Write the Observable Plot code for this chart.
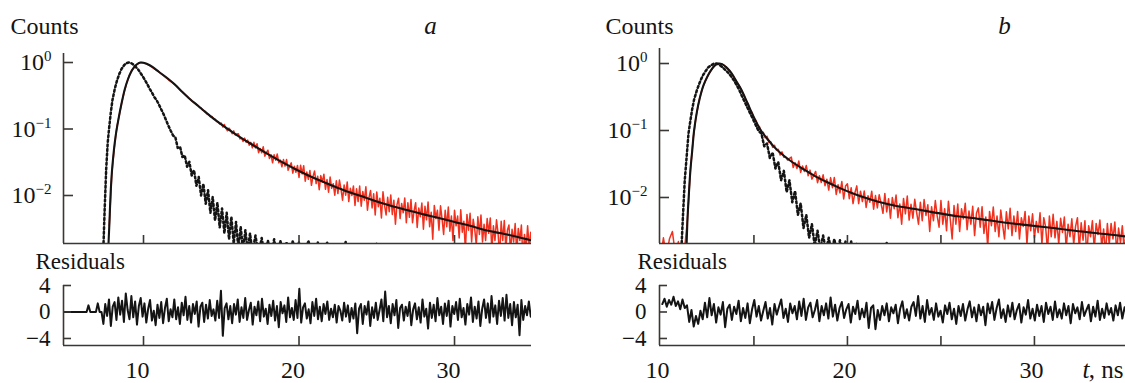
<!DOCTYPE html>
<html><head><meta charset="utf-8">
<script src="https://cdn.jsdelivr.net/npm/d3@7"></script>
<script src="https://cdn.jsdelivr.net/npm/@observablehq/plot@0.6"></script>
<style>
html,body{margin:0;padding:0;background:#fff;}
#wrap{position:relative;width:1125px;height:383px;overflow:hidden;}
#wrap svg{position:absolute;overflow:visible;}
#wrap svg, #wrap svg text, #wrap svg tspan{font-family:"Liberation Serif","Times New Roman",serif !important;}
</style></head><body><div id="wrap"></div>
<script>
// ---------- data (normalized counts, residuals) ----------
// panel a: fit curve
const fitAT = [7.70,7.75,7.80,7.90,8.00,8.20,8.40,8.60,8.80,9.00,9.20,9.40,9.60,9.80,10.00,10.20,10.60,11.00,11.50,12.00,12.50,13.00,13.50,14,15,16,17,18,19,20,21,22,23,24,25,26,27,28,29,30,31,32,33,34,35];
const fitAV = [0.0009,0.0019,0.0035,0.0126,0.028,0.076,0.145,0.25,0.40,0.56,0.72,0.85,0.95,1.0,0.99,0.955,0.85,0.72,0.59,0.47,0.36,0.28,0.224,0.178,0.117,0.081,0.058,0.042,0.031,0.0234,0.0182,0.0145,0.0117,0.0098,0.0081,0.0069,0.0060,0.0052,0.0046,0.0040,0.0035,0.0030,0.0027,0.0024,0.0021];
// panel a: instrument response (dotted)
const irfAT = [7.40,7.50,7.60,7.70,7.80,7.90,8.00,8.15,8.30,8.45,8.60,8.75,8.90,9.05,9.20,9.35,9.50,9.65,9.80,9.95,10.10,10.25,10.40,10.55,10.70,10.85,11.00,11.15,11.30,11.45,11.60,11.75,11.90,12.05,12.20,12.35,12.50,12.65,12.80,12.95,13.10,13.25,13.40,13.55,13.70,13.85,14.00,14.15,14.30,14.45,14.60,14.75,14.90,15.05,15.20,15.35,15.50,15.65,15.80,15.95,16.10,16.25,16.40,16.55,16.70,16.85,17.00,17.20,17.40,17.60,17.80,18.00,18.20,18.40,18.60,18.80,19.00,19.20,19.40,19.60,19.80,20.00,20.30,20.60,20.90,21.20,21.50,21.80,22.10,22.40,22.70,23.00,23.50,24.00,24.50,25.00,25.50,26.00];
const irfAV = [
0.0012,0.006,0.025,0.063,0.11,0.18,0.27,0.40,0.54,0.68,
0.81,0.91,0.98,1.0,0.98,0.93,0.86,0.79,0.70,0.62,
0.54,0.47,0.40,0.35,0.30,0.27,0.23,0.195,0.165,0.136,
0.112,0.094,0.080,0.075,0.052,0.054,0.038,0.040,0.027,0.032,
0.020,0.024,0.014,0.019,0.010,0.015,0.0075,0.012,0.0055,0.0095,
0.0042,0.0078,0.0033,0.0064,0.0027,0.0055,0.0022,0.0048,0.0019,0.0040,
0.0016,0.0034,0.0015,0.0030,0.0015,0.0027,0.0014,0.0025,0.0013,0.0023,
0.0012,0.0021,0.0012,0.0022,0.0011,0.0021,0.0012,0.0020,0.0011,0.0021,
0.0011,0.0020,0.0010,0.0021,0.0011,0.0020,0.0010,0.0020,0.0010,0.0018,
0.0010,0.0020,0.0010,0.0012,0.0010,0.0019,0.0010,0.0010];
// panel a: measured decay — rise and peak
const redAHeadT = [7.80,7.96,8.12,8.28,8.44,8.60,8.76,8.92,9.08,9.24,9.40,9.56,9.72,9.88,10.04,10.20,10.40,10.70,11.00,11.30,11.60,11.90,12.20,12.50,12.80,13.10,13.40];
const redAHeadV = [0.0035,0.021,0.052,0.105,0.16,0.25,0.36,0.49,0.63,0.76,0.85,0.93,0.98,1.0,0.98,0.955,0.90,0.80,0.72,0.63,0.55,0.49,0.42,0.36,0.31,0.265,0.235];
// panel a: measured decay — tail channels from 13.5 ns, 0.1 ns apart
const redATailStart = 13.5, redATailStep = 0.1;
const redATailV = [
0.226,0.211,0.207,0.192,0.189,
0.181,0.168,0.166,0.153,0.154,0.142,0.141,0.130,0.129,0.119,
0.123,0.107,0.117,0.102,0.094,0.103,0.096,0.085,0.094,0.081,
0.084,0.085,0.071,0.074,0.065,0.073,0.063,0.068,0.057,0.063,
0.052,0.063,0.052,0.060,0.044,0.051,0.044,0.054,0.039,0.044,
0.048,0.036,0.041,0.031,0.041,0.034,0.042,0.031,0.034,0.027,
0.0347,0.0276,0.0348,0.0239,0.0277,0.031,0.0217,0.0275,0.0223,0.0283,
0.0187,0.0285,0.0211,0.0281,0.0164,0.0226,0.0175,0.0237,0.0142,0.0194,
0.0233,0.0151,0.0195,0.0122,0.0199,0.0159,0.0209,0.0124,0.0174,0.0112,
0.0189,0.0128,0.0150,0.0101,0.0166,0.0107,0.0171,0.0125,0.0085,0.0144,
0.0101,0.0159,0.0081,0.0128,0.0100,0.0139,0.0071,0.0126,0.0081,0.0139,
0.0069,0.0115,0.0085,0.0135,0.0060,0.0093,0.0119,0.0065,0.0106,0.0051,
0.0113,0.0068,0.0091,0.0046,0.0114,0.0071,0.0051,0.0094,0.0057,0.0102,
0.0052,0.0085,0.0037,0.0073,0.0091,0.0045,0.0076,0.0055,0.0092,0.0039,
0.0078,0.0047,0.0087,0.0039,0.0059,0.0078,0.0033,0.0065,0.0048,0.0077,
0.0031,0.0069,0.0043,0.0080,0.0034,0.0056,0.0022,0.0071,0.0045,0.0060,
0.0030,0.0070,0.0044,0.0026,0.0060,0.0034,0.0067,0.0029,0.0049,0.0021,
0.0060,0.0035,0.0049,0.0023,0.0061,0.0028,0.0041,0.0015,0.0052,0.0030,
0.0054,0.0020,0.0044,0.0031,0.0018,0.0048,0.0026,0.0051,0.0020,0.0037,
0.0021,0.0045,0.0027,0.0046,0.0015,0.0035,0.0021,0.0043,0.0027,0.0012,
0.0041,0.0021,0.0042,0.0016,0.0030,0.0036,0.0014,0.0031,0.0020,0.0038,
0.0014,0.0032,0.0021,0.0036,0.0011,0.0026,0.0015,0.0035,0.0017,0.0028,0.0014];
// panel a residuals, channels from 4.9 ns, 0.12 ns apart
const resAStart = 4.9, resAStep = 0.12;
const resAV = [
0,0,0,0,0,0,0,0,0,0,0,0,0,1.0,0,0,0,0,1.3,0,0,
-1.8,1.2,-0.6,1.9,-2.1,0.8,1.5,-1.2,2.2,-0.4,
1.7,-1.5,2.8,0.3,-1.1,2.4,-0.8,1.6,-1.9,0.9,
2.1,-0.7,1.3,-1.6,0.5,1.8,-1.3,0.2,-2.0,1.1,
-0.9,1.5,-1.7,0.6,2.0,-1.4,0.4,-0.8,1.9,-1.1,
0.7,-1.8,1.4,-0.5,2.3,-1.2,0.9,-1.6,1.2,-0.3,
1.6,-2.2,0.8,1.4,-1.5,1.1,-1.0,1.8,-0.6,0.4,
-1.3,1.7,-0.9,3.2,-3.6,0.6,1.3,-1.1,0.9,-1.7,
1.2,-0.4,1.9,-1.5,0.7,-0.9,2.1,-1.2,0.3,1.4,
-1.9,0.8,-0.5,1.6,-1.4,2.0,-0.7,0.5,-1.8,1.1,
-0.6,1.7,-1.3,0.9,-2.3,1.5,-0.2,1.0,-1.5,2.2,
-0.8,0.6,-1.2,1.8,-0.9,3.5,-1.6,0.7,1.3,-1.0,
0.4,-1.7,1.5,-0.6,2.0,-1.1,0.8,-1.4,1.2,-0.3,
1.6,-1.2,0.5,-0.8,1.1,-1.6,0.9,0.2,-1.3,1.4,
-0.7,1.0,-1.5,0.6,-1.0,1.3,-3.2,0.5,1.2,-1.8,
0.9,-0.4,1.6,-2.1,0.7,-0.9,1.4,-1.2,0.3,1.9,
-1.4,3.1,-0.8,0.9,-1.7,1.2,-0.5,1.8,-2.4,0.6,
1.1,-1.3,0.8,-0.6,1.5,-2.0,0.4,1.3,-1.1,0.7,
-1.6,1.9,-0.7,0.5,-2.5,1.4,-0.9,1.1,-1.4,2.1,
-0.5,0.8,-1.8,1.3,-0.6,1.7,-2.2,0.9,-0.3,1.5,
-1.2,2.0,-0.8,0.6,-1.9,1.2,-0.4,2.2,-1.5,0.8,
-1.0,1.6,-2.1,0.5,1.9,-0.9,1.3,-1.6,2.4,-0.7,
1.0,-1.8,1.7,-0.6,2.1,-1.3,2.6,-0.9,1.2,-2.0,
1.5,-0.8,1.1,-3.5,1.8,-1.2,0.9,-0.5,1.6,-0.7];

// panel b: fit curve
const fitBT = [11.35,11.40,11.45,11.51,11.60,11.70,11.80,11.95,12.10,12.30,12.50,12.70,12.90,13.10,13.30,13.50,13.70,13.90,14.10,14.30,14.50,14.70,14.90,15.10,15.35,15.70,16.10,16.60,17.10,17.60,18.20,18.90,19.60,20.30,21.00,21.60,22.50,23.50,24.60,26.00,27.00,28.20,29.50,31.00,32.50,34.00,35.00];
const fitBV = [0.0009,0.0020,0.0050,0.010,0.025,0.050,0.10,0.19,0.30,0.47,0.63,0.79,0.93,1.0,0.98,0.89,0.78,0.65,0.52,0.42,0.32,0.24,0.18,0.138,0.102,0.076,0.056,0.042,0.033,0.027,0.0214,0.0170,0.0138,0.0115,0.0098,0.0087,0.0076,0.0068,0.0060,0.0052,0.0048,0.0043,0.0039,0.0035,0.0031,0.0028,0.0026];
// panel b: instrument response (dotted)
const irfBT = [11.10,11.20,11.30,11.40,11.50,11.60,11.70,11.80,11.95,12.10,12.25,12.40,12.55,12.70,12.85,13.00,13.15,13.30,13.45,13.60,13.75,13.90,14.05,14.20,14.35,14.50,14.65,14.80,14.95,15.10,15.25,15.40,15.55,15.70,15.85,16.00,16.15,16.30,16.45,16.60,16.75,16.90,17.05,17.20,17.35,17.50,17.65,17.80,17.95,18.10,18.25,18.40,18.55,18.70,18.85,19.00,19.15,19.30,19.45,19.60,19.75,19.90,20.05,20.20,20.35,20.50,20.70,21.00,21.95,22.10,22.25];
const irfBV = [
0.0013,0.005,0.018,0.04,0.09,0.14,0.21,0.29,0.40,0.52,
0.65,0.76,0.87,0.94,0.99,1.0,0.96,0.89,0.81,0.74,
0.66,0.575,0.49,0.41,0.33,0.27,0.22,0.18,0.148,0.12,
0.098,0.090,0.058,0.064,0.039,0.047,0.027,0.034,0.018,0.025,
0.012,0.018,0.0085,0.0125,0.0055,0.0082,0.0035,0.0055,0.0025,0.0040,
0.0019,0.0032,0.0017,0.0027,0.0016,0.0025,0.0015,0.0024,0.0014,0.0023,
0.0014,0.0022,0.0013,0.0022,0.0012,0.0021,0.0011,0.0012,0.0010,0.0021,0.0010];
// panel b: measured decay — background, rise and peak
const redBHeadT = [10.00,10.16,10.32,10.48,10.64,10.80,10.96,11.12,11.28,11.44,11.60,11.76,11.92,12.08,12.24,12.40,12.56,12.72,12.88,13.04,13.20,13.36,13.52,13.68,13.84,14.00,14.16,14.32];
const redBHeadV = [0.0012,0.0025,0.0013,0.0024,0.0031,0.0014,0.0022,0.0012,0.0016,0.0045,0.025,0.08,0.17,0.29,0.42,0.55,0.68,0.80,0.92,0.99,0.99,0.96,0.88,0.79,0.69,0.58,0.49,0.41];
// panel b: measured decay — tail channels from 14.5 ns, 0.1 ns apart
const redBTailStart = 14.5, redBTailStep = 0.1;
const redBTailV = [
0.322,0.270,0.247,0.203,0.186,
0.153,0.142,0.121,0.114,0.094,
0.094,0.078,0.082,0.067,0.068,
0.056,0.060,0.051,0.0525,0.043,0.048,0.040,0.040,0.036,0.0385,
0.040,0.028,0.033,0.027,0.035,0.0237,0.0296,0.0244,0.030,0.0211,
0.0256,0.0188,0.0214,0.0245,0.0166,0.0211,0.0167,0.0218,0.0150,0.0187,
0.0129,0.0198,0.0140,0.0199,0.0111,0.0155,0.0117,0.0173,0.0095,0.0148,
0.0160,0.0096,0.0140,0.0081,0.0118,0.0149,0.0081,0.0124,0.0087,0.0125,
0.0071,0.0106,0.0085,0.0124,0.0067,0.0107,0.0070,0.0110,0.0081,0.0058,
0.0115,0.0061,0.0096,0.0049,0.0100,0.0068,0.0109,0.0050,0.0080,0.0040,
0.0097,0.0057,0.0105,0.0046,0.0079,0.0049,0.0094,0.0060,0.0040,0.0085,
0.0045,0.0093,0.0054,0.0078,0.0031,0.0073,0.0045,0.0090,0.0053,0.0036,
0.0090,0.0040,0.0068,0.0032,0.0088,0.0047,0.0024,0.0076,0.0040,0.0080,
0.0031,0.0068,0.0048,0.0082,0.0033,0.0063,0.0040,0.0074,0.0027,0.0058,
0.0070,0.0036,0.0073,0.0029,0.0051,0.0018,0.0062,0.0038,0.0072,0.0031,
0.0053,0.0026,0.0065,0.0039,0.0024,0.0061,0.0034,0.0069,0.0027,0.0053,
0.0031,0.0062,0.0024,0.0050,0.0037,0.0062,0.0020,0.0053,0.0032,0.0057,
0.0025,0.0044,0.0030,0.0059,0.0020,0.0050,0.0036,0.0016,0.0053,0.0026,
0.0056,0.0025,0.0044,0.0020,0.0049,0.0030,0.0051,0.0017,0.0040,0.0026,
0.0048,0.0020,0.0037,0.0050,0.0017,0.0042,0.0023,0.0045,0.0013,0.0038,
0.0026,0.0045,0.0017,0.0041,0.0028,0.0046,0.0018,0.0034,0.0014,0.0041,
0.0020,0.0041,0.0024,0.0043,0.0015,0.0035,0.0021,0.0038,0.0016,0.0035];
// panel b residuals, channels from 10.1 ns, 0.12 ns apart
const resBStart = 10.1, resBStep = 0.12;
const resBV = [
1.2,2.0,0.8,1.8,1.1,2.3,0.9,1.6,0.4,1.9,
0.6,1.0,-1.5,0.3,-2.2,-0.6,-1.8,0.2,-1.1,1.4,
-0.8,2.1,-0.5,1.2,-1.6,0.7,-0.4,1.5,-2.3,0.5,
1.1,-1.2,0.8,-0.3,1.7,-1.4,0.6,-0.9,1.3,-1.7,
0.4,1.8,-0.7,0.9,-1.3,0.2,1.5,-1.0,0.6,-1.9,
1.2,-0.4,0.8,1.9,-0.9,0.5,-1.5,1.3,-0.2,0.9,
-1.1,1.6,-0.6,2.0,-1.2,0.7,1.4,-0.8,0.3,1.8,
-1.4,0.9,-0.5,1.3,-1.0,2.2,-0.7,1.1,-1.3,0.6,
1.5,-0.9,0.4,1.2,-1.6,0.8,-0.3,1.7,-1.1,0.5,
-0.8,1.4,-2.4,0.6,1.0,-2.6,0.3,-1.2,0.9,-0.5,
1.3,-1.4,0.7,-0.2,1.1,-1.7,0.5,1.6,-0.9,0.4,
-1.3,0.8,1.5,-0.6,2.4,-1.0,0.9,-1.5,1.8,-0.4,
0.6,-1.2,1.3,-0.7,0.2,-1.6,1.0,-0.3,1.4,-1.1,
0.5,-1.8,0.9,-0.6,1.2,-1.3,0.4,1.6,-0.8,0.7,
-1.4,1.1,-0.5,0.8,-2.0,1.3,-0.2,1.5,-1.2,0.6,
1.9,-0.9,0.4,-1.5,1.0,-0.7,1.4,-1.1,0.3,1.2,
-1.6,0.7,-0.4,1.8,-1.0,0.5,-1.3,1.1,-0.6,0.9,
-1.5,1.4,-0.3,0.8,-1.2,1.6,-0.8,0.4,-1.0,1.3,
-0.5,0.9,-1.7,1.2,-0.2,0.7,-1.1,1.5,-0.6,0.3,
1.1,-1.4,0.8,-0.7,1.7,-1.2,0.5,-0.9,1.3,-0.4,
0.6,-1.3,1.0,-0.5,1.4,-1.0,0.7,-0.3];

// axis settings
const xDomA = [4.855, 34.95], xDomB = [9.95, 34.87];
const yDomA = [0.001897, 1.366], yDomB = [0.002057, 1.675];
const resDom = [-5.06, 4];
const countTicks = [1, 0.1, 0.01];
const resTicks = [-4, 0, 4];
const xTicksA = [10, 20, 30], xTicksB = [15, 20, 25, 30], xLabelsB = [10, 20, 30];

// ---------- helpers ----------
const pairs = (ts, vs) => ts.map((t, i) => ({t, v: vs[i]}));
const channels = (start, step, vs) => vs.map((v, i) => ({t: +(start + i * step).toFixed(3), v}));
const AX = "#3a3734", RED = "#f2301e", INK = "#141414";
const FONT = "Liberation Serif";
const wrap = document.getElementById("wrap");
function place(svg, left, top) { svg.style.left = left + "px"; svg.style.top = top + "px"; wrap.appendChild(svg); }
const expFmt = d => { const e = Math.round(Math.log10(d)); return e < 0 ? "\u2212" + (-e) : String(e); };
function supers(svg) {
  svg.querySelectorAll('g[aria-label="y-axis tick label"] text').forEach(t => {
    const e = t.textContent; if (!e) return;
    t.textContent = "10";
    const s = document.createElementNS("http://www.w3.org/2000/svg", "tspan");
    s.setAttribute("dy", "-9"); s.setAttribute("font-size", "15");
    s.textContent = e; t.appendChild(s);
  });
}

function topPanel(o) {
  const svg = Plot.plot({
    width: o.width, height: 250,
    marginLeft: o.mL, marginRight: o.mR, marginTop: o.mT, marginBottom: 7,
    x: {domain: o.xDom}, y: {type: "log", domain: o.yDom},
    style: {fontFamily: FONT, background: "transparent", overflow: "visible"},
    marks: [
      Plot.line(o.red, {x: "t", y: "v", stroke: RED, strokeWidth: 1.5, clip: true}),
      Plot.line(o.irf, {x: "t", y: "v", stroke: INK, strokeWidth: 2.5, strokeDasharray: "2,2.6", clip: true}),
      Plot.line(o.fit, {x: "t", y: "v", stroke: INK, strokeWidth: 2.1, curve: "catmull-rom", clip: true}),
      Plot.ruleX([o.xDom[0]], {stroke: AX, strokeWidth: 1.6}),
      Plot.ruleY([o.yDom[0]], {stroke: AX, strokeWidth: 1.6}),
      Plot.axisY(countTicks, {anchor: "left", tickSize: 10, dx: 10, tickFormat: () => "", stroke: AX, strokeWidth: 1.6, label: null}),
      Plot.axisY(countTicks, {anchor: "left", tickSize: 0, tickPadding: 12, tickFormat: expFmt, fontSize: 24, fontFamily: FONT, fill: INK, label: null}),
      Plot.axisX(o.xTicks, {anchor: "bottom", tickSize: 8, dy: -8, tickFormat: () => "", stroke: AX, strokeWidth: 1.6, label: null}),
      Plot.text(["Counts"], {text: d => d, frameAnchor: "top-left", dx: o.cDx, dy: o.cDy, textAnchor: "start", lineAnchor: "bottom", fontSize: 24, fontFamily: FONT, fill: INK}),
      Plot.text([o.letter], {text: d => d, frameAnchor: "top-left", dx: o.lDx, dy: o.cDy, textAnchor: "middle", lineAnchor: "bottom", fontSize: 25, fontFamily: FONT, fontStyle: "italic", fill: INK})
    ]
  });
  supers(svg);
  return svg;
}

function resPanel(o) {
  const marks = [
    Plot.line(o.res, {x: "t", y: "v", stroke: INK, strokeWidth: 2.0, clip: true}),
    Plot.ruleX([o.xDom[0]], {stroke: AX, strokeWidth: 1.6}),
    Plot.ruleY([resDom[0]], {stroke: AX, strokeWidth: 1.6}),
    Plot.axisY(resTicks, {anchor: "left", tickSize: 8, dx: 8, tickFormat: () => "", stroke: AX, strokeWidth: 1.6, label: null}),
    Plot.axisY(resTicks, {anchor: "left", tickSize: 0, tickPadding: 13, fontSize: 23, fontFamily: FONT, fill: INK, label: null}),
    Plot.axisX(o.xTicks, {anchor: "bottom", tickSize: 9, dy: -9, tickFormat: () => "", stroke: AX, strokeWidth: 1.6, label: null}),
    Plot.axisX(o.xLabels, {anchor: "bottom", tickSize: 0, tickPadding: 15, dx: o.labDx, fontSize: 24, fontFamily: FONT, fill: INK, label: null}),
    Plot.text(["Residuals"], {text: d => d, frameAnchor: "top-left", dx: o.rDx, dy: -17, textAnchor: "start", lineAnchor: "bottom", fontSize: 23, fontFamily: FONT, fill: INK})
  ];
  if (o.unit) {
    marks.push(Plot.text(["t"], {text: d => d, frameAnchor: "bottom-right", dx: -36, dy: 32, textAnchor: "end", lineAnchor: "bottom", fontSize: 25, fontFamily: FONT, fontStyle: "italic", fill: INK}));
    marks.push(Plot.text([", ns"], {text: d => d, frameAnchor: "bottom-right", dx: -2, dy: 32, textAnchor: "end", lineAnchor: "bottom", fontSize: 25, fontFamily: FONT, fill: INK}));
  }
  return Plot.plot({
    width: o.width, height: 133,
    marginLeft: o.mL, marginRight: o.mR, marginTop: 35, marginBottom: 38,
    x: {domain: o.xDom}, y: {domain: resDom},
    style: {fontFamily: FONT, background: "transparent", overflow: "visible"},
    marks
  });
}

place(topPanel({width: 560, mL: 63, mR: 29, mT: 53, xDom: xDomA, yDom: yDomA, xTicks: xTicksA,
  red: pairs(redAHeadT, redAHeadV).concat(channels(redATailStart, redATailStep, redATailV)),
  irf: pairs(irfAT, irfAV), fit: pairs(fitAT, fitAV),
  letter: "a", cDx: -53, cDy: -20, lDx: 367}), 0, 0);
place(topPanel({width: 565, mL: 99, mR: 0, mT: 48, xDom: xDomB, yDom: yDomB, xTicks: xTicksB,
  red: pairs(redBHeadT, redBHeadV).concat(channels(redBTailStart, redBTailStep, redBTailV)),
  irf: pairs(irfBT, irfBV), fit: pairs(fitBT, fitBV),
  letter: "b", cDx: -54, cDy: -15, lDx: 345}), 560, 0);
place(resPanel({width: 560, mL: 63, mR: 29, xDom: xDomA, xTicks: xTicksA, xLabels: xTicksA, labDx: -6,
  res: channels(resAStart, resAStep, resAV), rDx: -28}), 0, 250);
place(resPanel({width: 565, mL: 99, mR: 0, xDom: xDomB, xTicks: xTicksB, xLabels: xLabelsB, labDx: -3,
  res: channels(resBStart, resBStep, resBV), rDx: -22, unit: true}), 560, 250);
</script></body></html>
